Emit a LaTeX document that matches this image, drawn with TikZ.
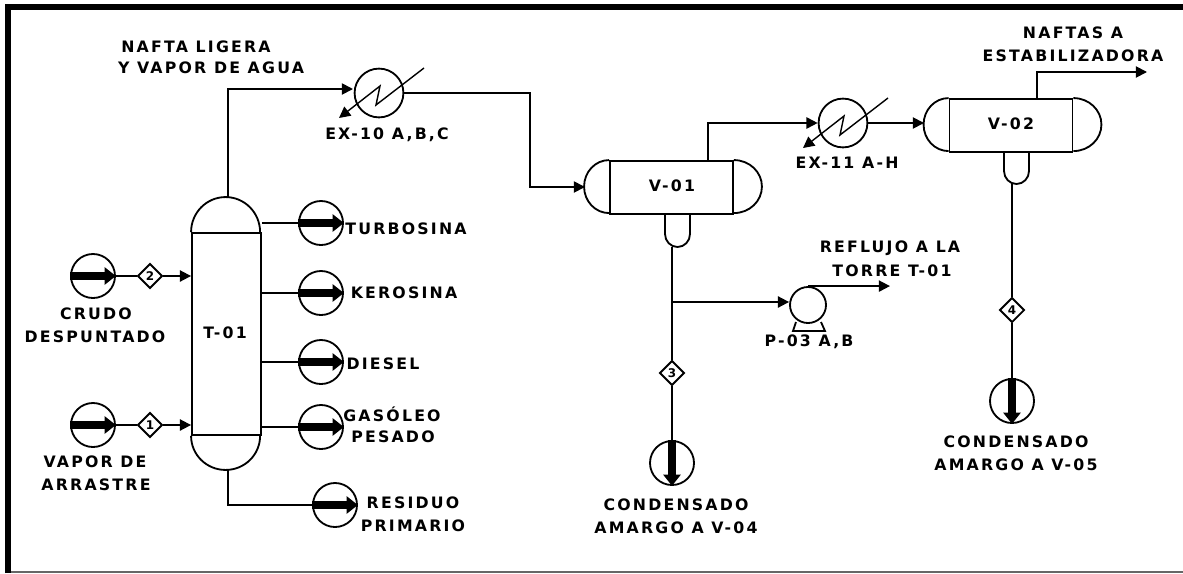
\documentclass[tikz,border=0pt]{standalone}
\usepackage{fontspec}
\setmainfont{DejaVu Sans}[LetterSpace=14]
\usetikzlibrary{shapes.geometric}
\usetikzlibrary{arrows.meta}

\begin{document}
\begin{tikzpicture}[
  x=0.025cm, y=-0.025cm,
  line width=1.3pt,
  every node/.style={inner sep=0pt},
  vessel/.style={rectangle, draw, fill=white, minimum width=3.075cm, minimum height=1.325cm},
  tower/.style={rectangle, draw, fill=white, minimum width=1.725cm, minimum height=5.05cm},
  stream/.style={circle, draw, fill=white, minimum size=1.1cm},
  cooler/.style={circle, draw, fill=white, minimum size=1.22cm},
  pumpbody/.style={circle, draw, fill=white, minimum size=0.9cm},
  tag/.style={diamond, draw, fill=white, minimum size=0.62cm, font=\fontsize{8.5}{8.5}\bfseries},
  lbl/.style={font=\fontsize{11.2}{11.2}\bfseries},
  bigflow/.style={line width=6pt, -{Triangle[length=8pt, width=12pt]}},
]
\tikzset{>={Triangle[length=8pt, width=8pt]}}
\useasboundingbox (0,0) rectangle (1183,573);
\fill[white] (0,0) rectangle (1183,573);

% marco
\draw[line width=1.4pt, black!60] (11,572) -- (1183,572);
\draw[line width=4.3pt] (8,573) -- (8,7.3) -- (1183,7.3);

% torre
\node[tower] (T01) at (226.5,334) {};
\node[lbl] (T01txt) at (225,333) {T-01};
\draw (T01.north west) arc[start angle=180, end angle=360, x radius=34.5, y radius=35];
\draw (T01.south west) arc[start angle=180, end angle=0, x radius=34.5, y radius=34];

% acumuladores
\node[vessel] (V01) at (671.5,187.5) {};
\node[lbl] (V01txt) at (672,186) {V-01};
\node[vessel] (V02) at (1011,125.5) {};
\node[lbl] (V02txt) at (1011,124) {V-02};
\foreach \v in {V01,V02}{
  \draw (\v.north west) arc[start angle=270, end angle=90, x radius=25, y radius=26.5];
  \draw (\v.north east) arc[start angle=-90, end angle=90, x radius=28, y radius=26.5];
}
\draw (665,214) -- (665,234) arc[start angle=180, end angle=0, x radius=12.5, y radius=13] -- (690,214);
\draw (1004,152) -- (1004,171) arc[start angle=180, end angle=0, x radius=12.5, y radius=13] -- (1029,152);
\coordinate (bootA) at (672,247);
\coordinate (bootB) at (1012,184);

% cambiadores
\node[cooler] (EX10) at (379,93) {};
\node[cooler] (EX11) at (843,123) {};
\foreach \e in {EX10,EX11}{
  \draw[->, line width=1pt] ([shift={(45,-25)}]\e.center) -- ([shift={(-3,12)}]\e.center)
    -- ([shift={(1,-7)}]\e.center) -- ([shift={(-40,25)}]\e.center);
}
\node[lbl] (EX10txt) at (387,135) {EX-10 A,B,C};
\node[lbl] (EX11txt) at (847,163) {EX-11 A-H};

% bomba
\draw (796,322) -- (793,331) -- (825,331) -- (821,322);
\node[pumpbody] (P03) at (808,305) {};
\node[lbl] (P03txt) at (809,342) {P-03 A,B};

% corrientes
\node[stream] (sCrudo) at (93,276) {};
\node[stream] (sVapor) at (93,425) {};
\node[stream] (sTurbo) at (321,223) {};
\node[stream] (sKero) at (321,293) {};
\node[stream] (sDiesel) at (321,362) {};
\node[stream] (sGasoleo) at (321,427) {};
\node[stream] (sResiduo) at (335,505) {};
\node[stream] (sCondA) at (672,463) {};
\node[stream] (sCondB) at (1012,401) {};

% etiquetas de linea
\node[tag] (d1) at (150,425) {1};
\node[tag] (d2) at (150,276) {2};
\node[tag] (d3) at (672,373) {3};
\node[tag] (d4) at (1012,310) {4};

% tuberias
\coordinate (outNaftas) at (1147,72);
\coordinate (outReflujo) at (890,287);
\coordinate (topT) at (228,198);
\coordinate (botT) at (228,469);
\coordinate (inEX10) at (353,89);
\coordinate (jA) at (672,302);
\draw (sCrudo) -- (d2);
\draw (sVapor) -- (d1);
\draw[->] (d2) -- (d2 -| T01.west);
\draw[->] (d1) -- (d1 -| T01.west);
\draw[->] (topT) |- (inEX10);
\draw[->] (EX10.east) -| (530,187) -- (585,187);
\draw[->] (708,161) |- (EX11.west);
\draw[->] (EX11.east) -- (924,123);
\draw[->] (1037,99) |- (outNaftas);
\draw (bootA) -- (d3);
\draw (d3) -- (sCondA);
\draw (bootB) -- (d4);
\draw (d4) -- (sCondB);
\draw[->] (jA) -- (P03.west |- jA);
\draw[->] (P03.north) -- (P03.north -| outReflujo);
\foreach \s in {sTurbo,sKero,sDiesel,sGasoleo}{
  \draw (T01.east |- \s) -- (\s);
}
\draw (botT) |- (sResiduo);

% flechas gruesas
\foreach \s in {sCrudo,sVapor,sTurbo,sKero,sDiesel,sGasoleo,sResiduo}{
  \draw[bigflow] (\s.west) -- (\s.east);
}
\foreach \s in {sCondA,sCondB}{
  \draw[bigflow] (\s.north) -- (\s.south);
}

% textos
\node[lbl] (t1) at (196,47) {NAFTA LIGERA};
\node[lbl] (t2) at (211,68) {Y VAPOR DE AGUA};
\node[lbl] (t3) at (1073,33) {NAFTAS A};
\node[lbl] (t4) at (1073,56) {ESTABILIZADORA};
\node[lbl] (t5) at (890,248) {REFLUJO A LA};
\node[lbl] (t6) at (892,271) {TORRE T-01};
\node[lbl] (t7) at (96,314) {CRUDO};
\node[lbl] (t8) at (95,337) {DESPUNTADO};
\node[lbl] (t9) at (95,462) {VAPOR DE};
\node[lbl] (t10) at (96,485) {ARRASTRE};
\node[lbl] (t11) at (406,229) {TURBOSINA};
\node[lbl] (t12) at (404,293) {KEROSINA};
\node[lbl] (t13) at (383,364) {DIESEL};
\node[lbl] (t14) at (392,414) {GASÓLEO};
\node[lbl] (t15) at (393,437) {PESADO};
\node[lbl] (t16) at (413,503) {RESIDUO};
\node[lbl] (t17) at (413,526) {PRIMARIO};
\node[lbl] (t18) at (676,505) {CONDENSADO};
\node[lbl] (t19) at (676,528) {AMARGO A V-04};
\node[lbl] (t20) at (1016,442) {CONDENSADO};
\node[lbl] (t21) at (1016,465) {AMARGO A V-05};
\end{tikzpicture}
\end{document}
